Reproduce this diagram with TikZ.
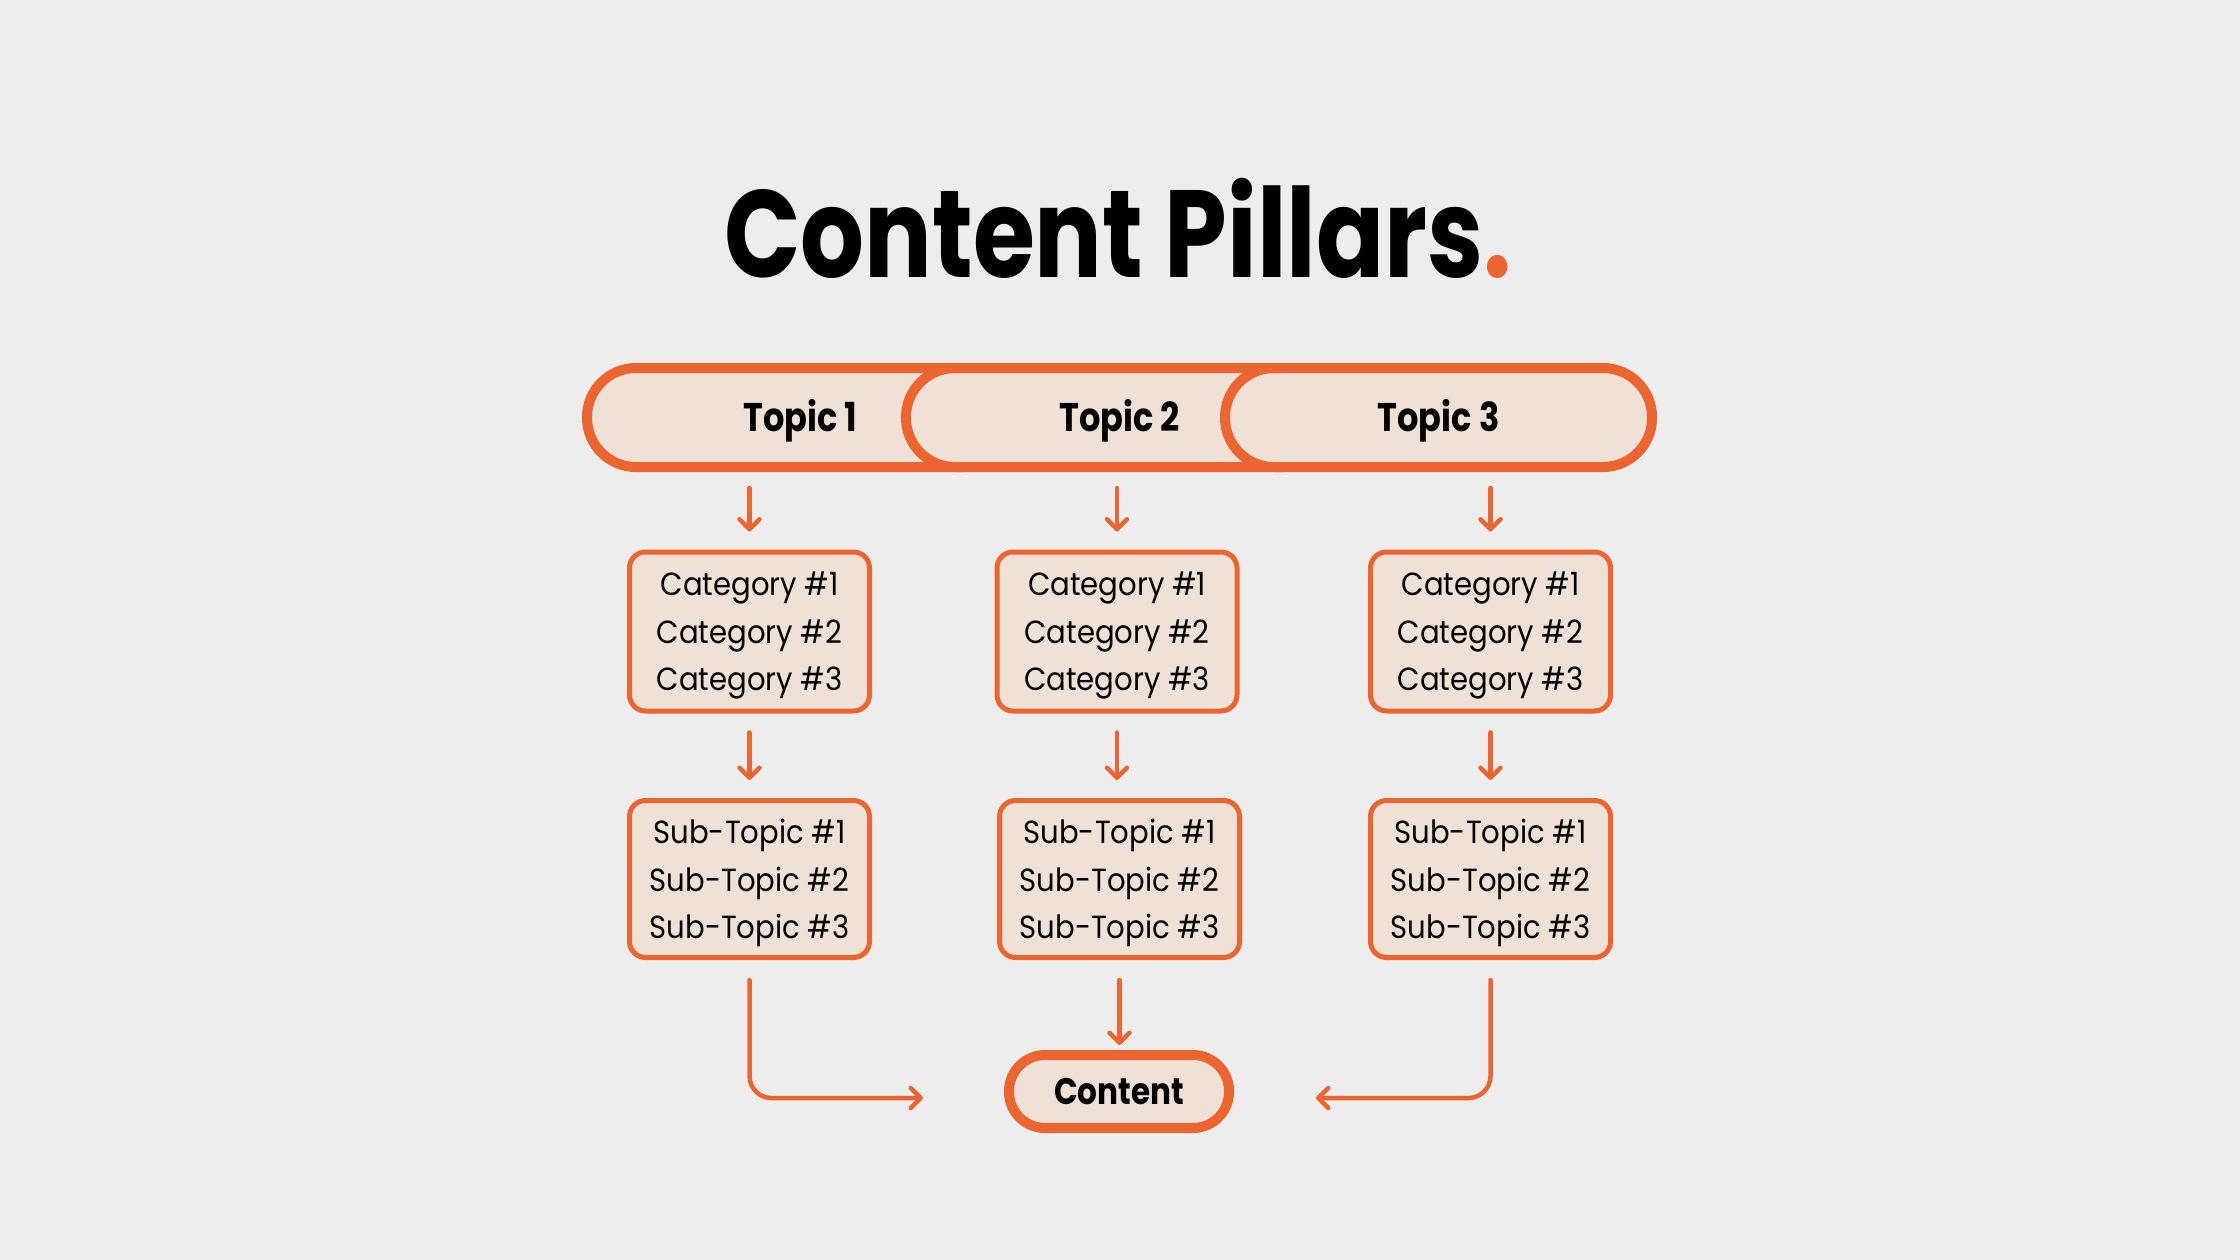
\documentclass[tikz,border=0pt]{standalone}
\usepackage{fontspec}
\setmainfont{Poppins}
\newfontfamily\condfont[FakeStretch=0.84]{Poppins}
\newfontfamily\titlefont[FakeStretch=0.81]{Poppins}
\newfontfamily\bodyfont[FakeStretch=0.91]{Poppins}
\usetikzlibrary{arrows.meta,calc}
\definecolor{bg}{RGB}{237,237,237}
\definecolor{accent}{RGB}{236,100,48}
\definecolor{pale}{RGB}{239,225,213}
\begin{document}
\begin{tikzpicture}[x=1pt,y=-1pt,
  pill/.style={draw=accent, fill=pale, line width=10pt, rounded corners=49pt,
    minimum width=427pt, minimum height=99pt, inner sep=0pt,
    text height=28pt, text depth=0pt,
    font=\condfont\fontsize{40}{40}\selectfont\bfseries},
  box/.style={draw=accent, fill=pale, line width=5pt, rounded corners=16pt,
    minimum width=240pt, inner sep=0pt, align=center, text depth=0pt,
    font=\bodyfont\fontsize{32}{47.5}\selectfont},
  endpill/.style={draw=accent, fill=pale, line width=10pt, rounded corners=36pt,
    minimum width=220pt, minimum height=73pt, inner sep=0pt,
    text height=26pt, text depth=0pt,
    font=\condfont\fontsize{37}{37}\selectfont\bfseries},
  arr/.style={draw=accent, line width=4.5pt, line cap=round, line join=round,
    -{Straight Barb[length=10pt,width=20pt,line cap=round,line join=round]}}
]
\fill[bg] (0,0) rectangle (2240,1260);
\useasboundingbox (0,0) rectangle (2240,1260);

\node[anchor=base, inner sep=0pt] (title) at (1118,277)
  {\titlefont\fontsize{124}{124}\selectfont\bfseries Content Pillars\textcolor{accent}{.}};

\node[pill] (t1) at (800.5,417.5) {Topic 1};
\node[pill] (t2) at (1119.5,417.5) {Topic 2};
\node[pill] (t3) at (1438.5,417.5) {Topic 3};

\node[box, minimum height=159pt] (c1) at (749.5,631.5) {Category \#1\\Category \#2\\Category \#3};
\node[box, minimum height=159pt] (c2) at (1117,631.5) {Category \#1\\Category \#2\\Category \#3};
\node[box, minimum height=159pt] (c3) at (1490.5,631.5) {Category \#1\\Category \#2\\Category \#3};

\node[box, minimum height=157pt] (s1) at (749.5,879) {Sub-Topic \#1\\Sub-Topic \#2\\Sub-Topic \#3};
\node[box, minimum height=157pt] (s2) at (1119.5,879) {Sub-Topic \#1\\Sub-Topic \#2\\Sub-Topic \#3};
\node[box, minimum height=157pt] (s3) at (1490.5,879) {Sub-Topic \#1\\Sub-Topic \#2\\Sub-Topic \#3};

\node[endpill] (cont) at (1119,1091.5) {Content};

\draw[arr, shorten <=16pt, shorten >=18pt] (c1.north |- t1.south) -- (c1.north);
\draw[arr, shorten <=16pt, shorten >=18pt] (c2.north |- t2.south) -- (c2.north);
\draw[arr, shorten <=16pt, shorten >=18pt] (c3.north |- t3.south) -- (c3.north);

\draw[arr, shorten <=19pt, shorten >=18pt] (c1.south) -- (c1.south |- s1.north);
\draw[arr, shorten <=19pt, shorten >=18pt] (c2.south) -- (c2.south |- s2.north);
\draw[arr, shorten <=19pt, shorten >=18pt] (c3.south) -- (c3.south |- s3.north);

\draw[arr, shorten <=20pt, shorten >=5pt] (s2.south) -- (s2.south |- cont.north);
\coordinate (lj) at ($(cont.west)+(-81,6.5)$);
\coordinate (rj) at ($(cont.east)+(82,6.5)$);
\draw[arr, rounded corners=22pt, shorten <=20pt] (s1.south) -- (s1.south |- lj) -- (lj);
\draw[arr, rounded corners=22pt, shorten <=20pt] (s3.south) -- (s3.south |- rj) -- (rj);
\end{tikzpicture}
\end{document}
